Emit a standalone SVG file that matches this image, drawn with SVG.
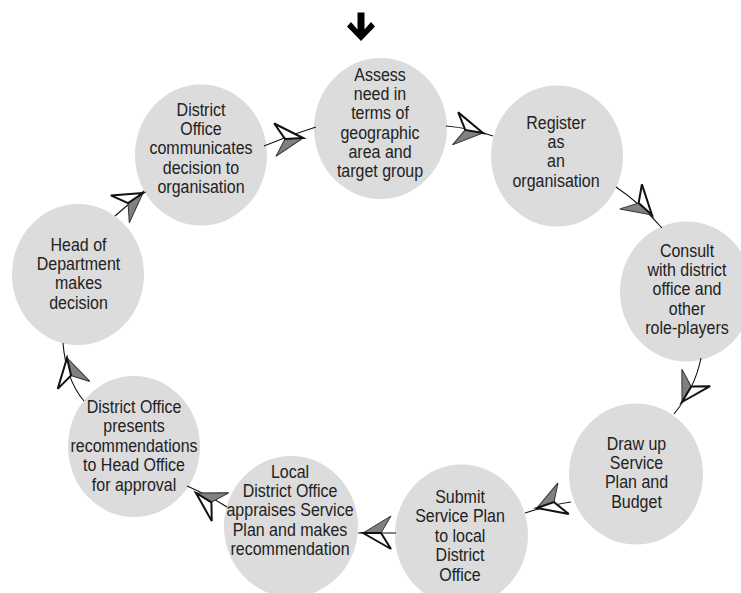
<svg xmlns="http://www.w3.org/2000/svg" xmlns:xlink="http://www.w3.org/1999/xlink" width="741" height="593" viewBox="0 0 741 593">
<style>
.node{fill:#dcdcdc;stroke:none}
.lbl{font-family:"Liberation Sans",Arial,sans-serif;font-size:16px;fill:#222;text-anchor:middle}
.con{fill:none;stroke:#111;stroke-width:1.1}
.w{fill:#fff;stroke:#111;stroke-width:2;stroke-linejoin:miter}
.g{fill:#808080;stroke:#333;stroke-width:1}
</style>
<defs>
<g id="dart">
<polygon class="g" points="0,0 -18,0 -28,17"/>
<polygon class="w" points="0,0 -28,-16 -18,0"/>
</g>
</defs>
<rect width="741" height="593" fill="#fff"/>
<g id="start-arrow">
<polygon fill="#000" points="357.5,12.5 364.5,12.5 364.5,29.5 371,22 375,26.5 361,41 347,26.5 351,22 357.5,29.5"/>
</g>
<g id="n1">
<ellipse class="node" cx="380.5" cy="128.5" rx="66.5" ry="70.5"/>
<text class="lbl" transform="translate(380,80.5) scale(1,1.12)"><tspan x="0" y="0">Assess</tspan><tspan x="0" y="17.3">need in</tspan><tspan x="0" y="34.6">terms of</tspan><tspan x="0" y="51.9">geographic</tspan><tspan x="0" y="69.2">area and</tspan><tspan x="0" y="86.5">target group</tspan></text>
</g>
<g id="n2">
<ellipse class="node" cx="557" cy="156" rx="66" ry="70.5"/>
<text class="lbl" transform="translate(556,128.5) scale(1,1.12)"><tspan x="0" y="0">Register</tspan><tspan x="0" y="17.3">as</tspan><tspan x="0" y="34.6">an</tspan><tspan x="0" y="51.9">organisation</tspan></text>
</g>
<g id="n3">
<ellipse class="node" cx="686.5" cy="291.5" rx="66.5" ry="70"/>
<text class="lbl" transform="translate(687,256.5) scale(1,1.12)"><tspan x="0" y="0">Consult</tspan><tspan x="0" y="17.3">with district</tspan><tspan x="0" y="34.6">office and</tspan><tspan x="0" y="51.9">other</tspan><tspan x="0" y="69.2">role-players</tspan></text>
</g>
<g id="n4">
<ellipse class="node" cx="636" cy="474" rx="67" ry="70.5"/>
<text class="lbl" transform="translate(636.5,449.5) scale(1,1.12)"><tspan x="0" y="0">Draw up</tspan><tspan x="0" y="17.3">Service</tspan><tspan x="0" y="34.6">Plan and</tspan><tspan x="0" y="51.9">Budget</tspan></text>
</g>
<g id="n5">
<ellipse class="node" cx="461.5" cy="535" rx="66.5" ry="70.5"/>
<text class="lbl" transform="translate(460,503) scale(1,1.12)"><tspan x="0" y="0">Submit</tspan><tspan x="0" y="17.3">Service Plan</tspan><tspan x="0" y="34.6">to local</tspan><tspan x="0" y="51.9">District</tspan><tspan x="0" y="69.2">Office</tspan></text>
</g>
<g id="n6">
<ellipse class="node" cx="291" cy="526.5" rx="67" ry="70.5"/>
<text class="lbl" transform="translate(290,477.5) scale(1,1.12)"><tspan x="0" y="0">Local</tspan><tspan x="0" y="17.3">District Office</tspan><tspan x="0" y="34.6">appraises Service</tspan><tspan x="0" y="51.9">Plan and makes</tspan><tspan x="0" y="69.2">recommendation</tspan></text>
</g>
<g id="n7">
<ellipse class="node" cx="134" cy="446.5" rx="66" ry="70.5"/>
<text class="lbl" transform="translate(134,413) scale(1,1.12)"><tspan x="0" y="0">District Office</tspan><tspan x="0" y="17.3">presents</tspan><tspan x="0" y="34.6">recommendations</tspan><tspan x="0" y="51.9">to Head Office</tspan><tspan x="0" y="69.2">for approval</tspan></text>
</g>
<g id="n8">
<ellipse class="node" cx="78" cy="274.5" rx="66" ry="70.5"/>
<text class="lbl" transform="translate(78.5,250.5) scale(1,1.12)"><tspan x="0" y="0">Head of</tspan><tspan x="0" y="17.3">Department</tspan><tspan x="0" y="34.6">makes</tspan><tspan x="0" y="51.9">decision</tspan></text>
</g>
<g id="n9">
<ellipse class="node" cx="201" cy="155" rx="66" ry="70.5"/>
<text class="lbl" transform="translate(201,115.5) scale(1,1.12)"><tspan x="0" y="0">District</tspan><tspan x="0" y="17.3">Office</tspan><tspan x="0" y="34.6">communicates</tspan><tspan x="0" y="51.9">decision to</tspan><tspan x="0" y="69.2">organisation</tspan></text>
</g>
<g id="connectors">
<path class="con" d="M264,146 Q290,135 316,127"/>
<path class="con" d="M446,126 Q470,128 493,136"/>
<path class="con" d="M616,187 Q640,203 662,228"/>
<path class="con" d="M701,358 Q695,388 674,414"/>
<path class="con" d="M571,502 Q550,505 525,513"/>
<path class="con" d="M396,533 L358,533"/>
<path class="con" d="M227,507 Q208,495 187,486"/>
<path class="con" d="M63,343 Q66,380 84,401"/>
<path class="con" d="M115,216 L144,191"/>
<use xlink:href="#dart" transform="translate(303,138) rotate(-3)"/>
<use xlink:href="#dart" transform="translate(483,133) rotate(10)"/>
<use xlink:href="#dart" transform="translate(652,215) rotate(42)"/>
<use xlink:href="#dart" transform="translate(682,402) rotate(121)"/>
<use xlink:href="#dart" transform="translate(537,508) rotate(161)"/>
<use xlink:href="#dart" transform="translate(363,533) rotate(180)"/>
<use xlink:href="#dart" transform="translate(196,493) rotate(211)"/>
<use xlink:href="#dart" transform="translate(67,358) rotate(257)"/>
<use xlink:href="#dart" transform="translate(143,193) rotate(-34)"/>
</g>
</svg>
